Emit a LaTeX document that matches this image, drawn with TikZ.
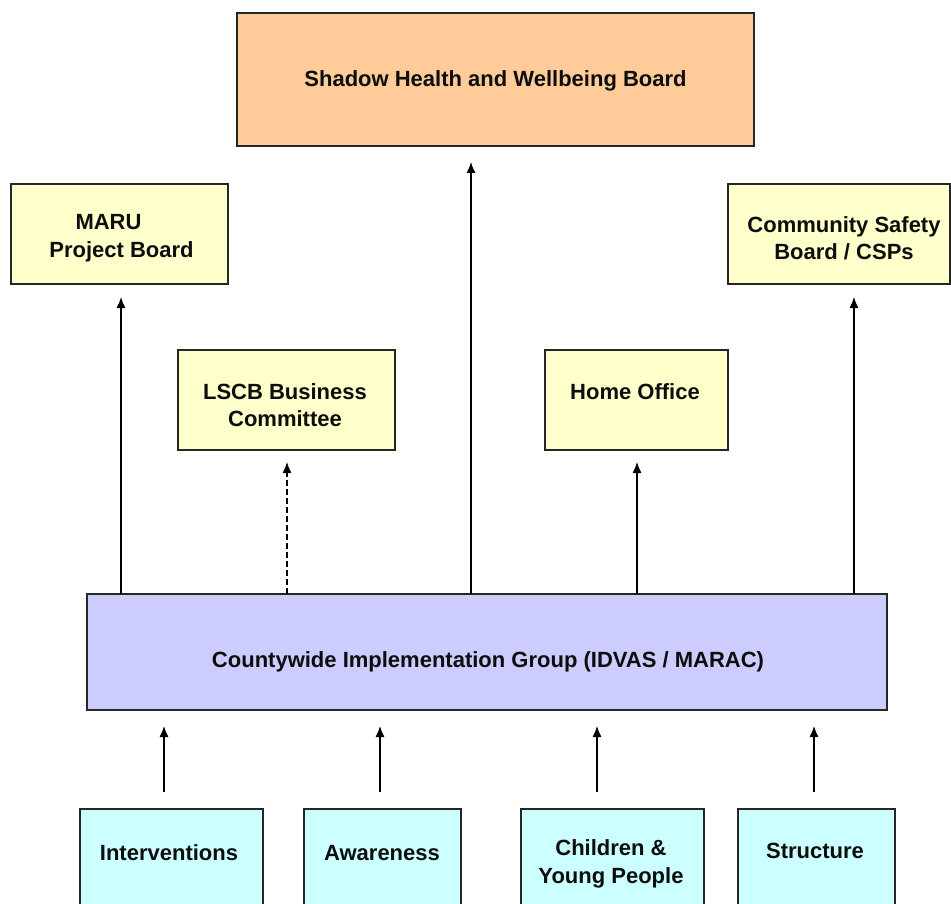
\documentclass[tikz,border=0pt]{standalone}
\usepackage{fontspec}
\setmainfont{Liberation Sans}
\usetikzlibrary{arrows.meta}
\definecolor{peach}{HTML}{FFCC99}
\definecolor{paleyellow}{HTML}{FFFFCC}
\definecolor{lavender}{HTML}{CCCCFF}
\definecolor{palecyan}{HTML}{CCFFFF}
\begin{document}
\begin{tikzpicture}[x=1pt,y=-1pt,
  box/.style={draw=black!85, line width=1.2pt, inner sep=0pt, outer sep=0pt},
  lbl/.style={font=\fontsize{22}{27.5}\selectfont\bfseries, align=center, inner sep=0pt, text=black!95},
  arr/.style={line width=1.3pt, -{Latex[length=11pt,width=9pt]}}]
\useasboundingbox (0,0) rectangle (951,904);
% boxes
\node[box, fill=peach, minimum width=517pt, minimum height=133pt] (shb) at (495.5,79.5) {};
\node[box, fill=paleyellow, minimum width=217pt, minimum height=100pt] (maru) at (119.5,234) {};
\node[box, fill=paleyellow, minimum width=222pt, minimum height=100pt] (csb) at (839,234) {};
\node[box, fill=paleyellow, minimum width=217pt, minimum height=100pt] (lscb) at (286.5,400) {};
\node[box, fill=paleyellow, minimum width=183pt, minimum height=100pt] (home) at (636.5,400) {};
\node[box, fill=lavender, minimum width=800pt, minimum height=116pt] (cig) at (487,652) {};
\node[box, fill=palecyan, minimum width=183pt, minimum height=111pt] (intv) at (171.5,864.5) {};
\node[box, fill=palecyan, minimum width=157pt, minimum height=111pt] (awar) at (382.5,864.5) {};
\node[box, fill=palecyan, minimum width=183pt, minimum height=111pt] (cyp) at (612.5,864.5) {};
\node[box, fill=palecyan, minimum width=157pt, minimum height=111pt] (stru) at (816.5,864.5) {};
% labels
\node[lbl] (tshb) at (495.5,81) {Shadow Health and Wellbeing Board};
\node[lbl] (tmaru) at (121.5,238) {MARU\rule{26pt}{0pt}\\Project Board};
\node[lbl] (tcsb) at (844,238) {Community Safety\\Board / CSPs};
\node[lbl] (tlscb) at (285,405) {LSCB Business\\Committee};
\node[lbl] (thome) at (635,392) {Home Office};
\node[lbl] (tcig) at (488,662) {Countywide Implementation Group (IDVAS / MARAC)};
\node[lbl] (tintv) at (169,853) {Interventions};
\node[lbl] (tawar) at (382,853) {Awareness};
\node[lbl] (tcyp) at (611,864) {Children \&\\Young People};
\node[lbl] (tstru) at (815,851) {Structure};
% arrow tips (free ends)
\coordinate (pmaru) at (121,297);
\coordinate (plscb) at (287,462);
\coordinate (pshb) at (471,162);
\coordinate (phome) at (637,462);
\coordinate (pcsb) at (854,297);
\draw[arr] (cig.north -| pmaru) -- (pmaru);
\draw[arr, dash pattern=on 6pt off 3pt] (cig.north -| plscb) -- (plscb);
\draw[arr] (cig.north -| pshb) -- (pshb);
\draw[arr] (cig.north -| phome) -- (phome);
\draw[arr] (cig.north -| pcsb) -- (pcsb);
% bottom arrows
\coordinate (q1) at (164,792);
\coordinate (q2) at (380,792);
\coordinate (q3) at (597,792);
\coordinate (q4) at (814,792);
\draw[arr, shorten >=16pt] (q1) -- (cig.south -| q1);
\draw[arr, shorten >=16pt] (q2) -- (cig.south -| q2);
\draw[arr, shorten >=16pt] (q3) -- (cig.south -| q3);
\draw[arr, shorten >=16pt] (q4) -- (cig.south -| q4);
\end{tikzpicture}
\end{document}
